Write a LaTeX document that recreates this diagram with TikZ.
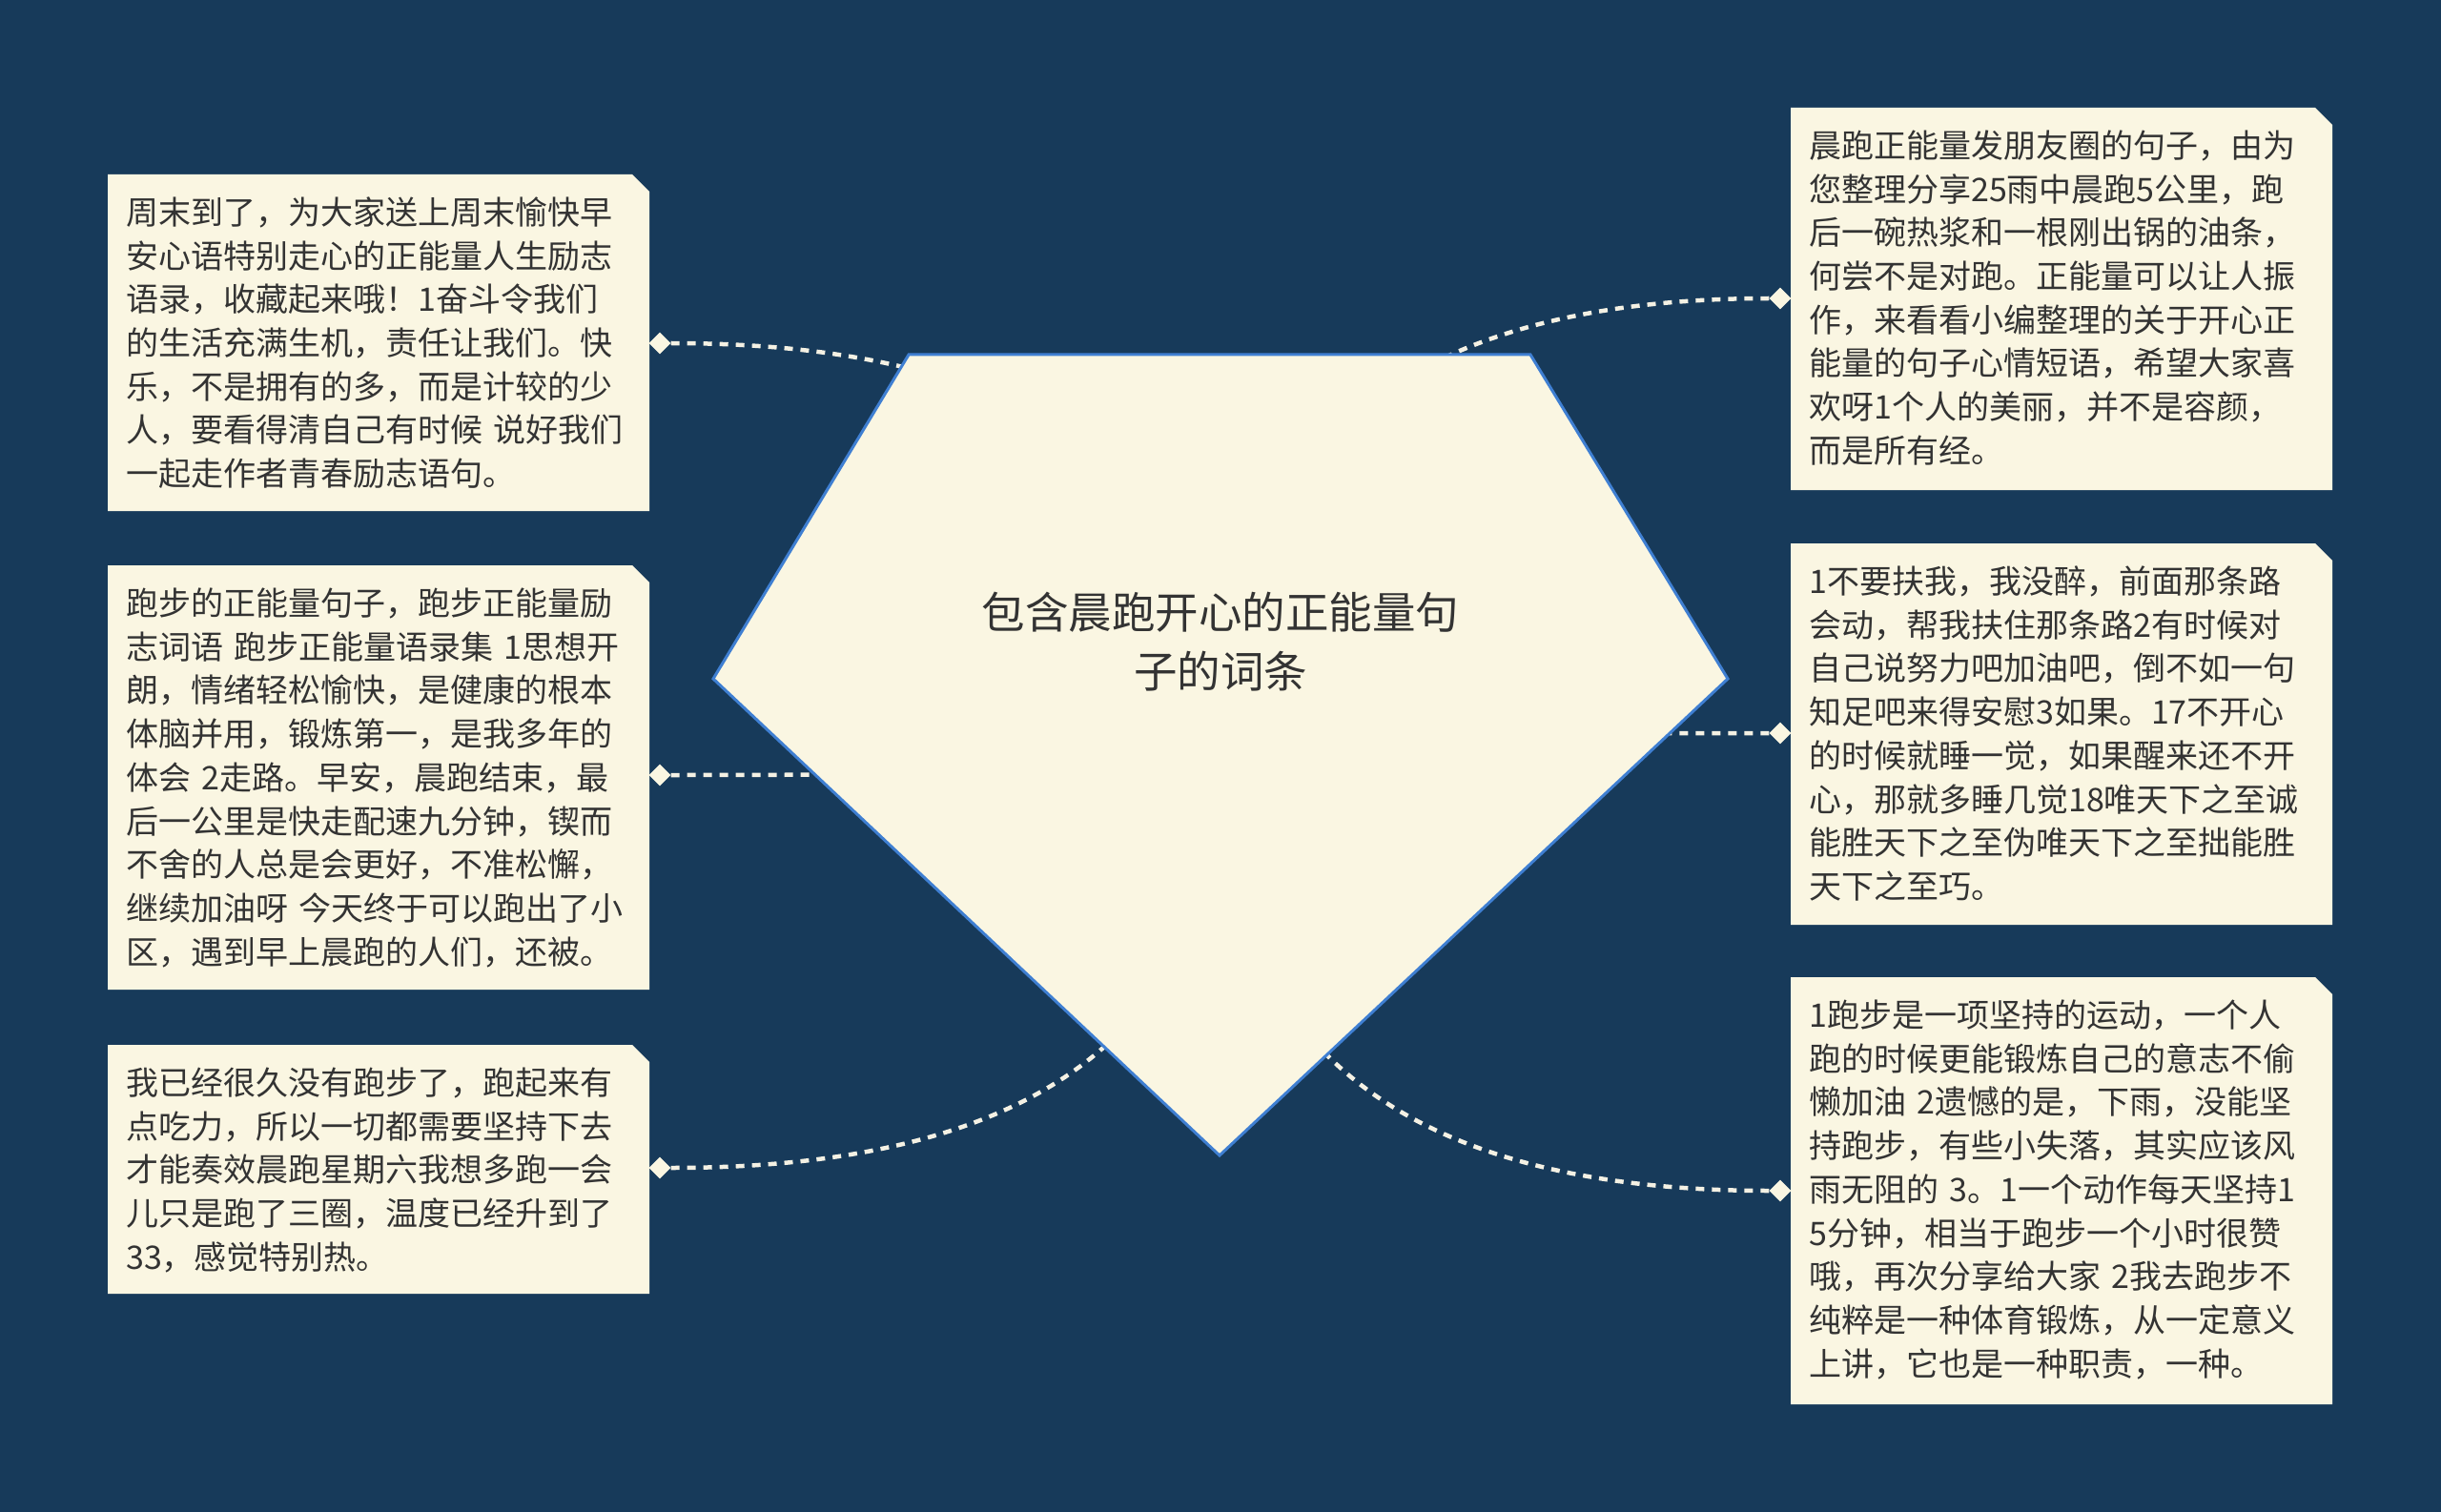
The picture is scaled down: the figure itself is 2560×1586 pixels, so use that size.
\documentclass[tikz,border=0pt]{standalone}
\usepackage{fontspec}
\newfontfamily\cjk{Noto Sans CJK SC}
\usetikzlibrary{shapes.geometric,calc}
\definecolor{bg}{HTML}{173A5A}
\definecolor{card}{HTML}{FAF6E2}
\definecolor{ink}{HTML}{333333}
\definecolor{edgeblue}{HTML}{3F7FD2}
\definecolor{dashc}{HTML}{F4F1E4}
\tikzset{
  cardtext/.style={anchor=base west, text width=560pt, align=left, inner sep=0pt,
    font=\cjk\fontsize{34}{45.7}\selectfont, text=ink},
  tip/.style={diamond, fill=card, minimum width=23pt, minimum height=23pt, inner sep=0pt},
  link/.style={draw=dashc, line width=4.5pt, dash pattern=on 9pt off 8pt},
  titletext/.style={anchor=base, text width=560pt, align=center, inner sep=0pt,
    font=\cjk\fontsize{45.5}{62}\selectfont, text=ink}
}
\newcommand\mycard[5]{%
  \fill[card] (#2,#3) -- ++(550,0) -- ++(18,18) -- ++(0,#4-18) -- ++(-568,0) -- cycle;
  \node[cardtext] (#1) at (#2+19,#3+52.5) {#5};
}
\begin{document}
\begin{tikzpicture}[x=1pt,y=-1pt]
\useasboundingbox (0,0) rectangle (2560,1586);
\fill[bg] (0,0) rectangle (2560,1586);

\mycard{l1}{113}{183}{353}{周末到了，为大家送上周末愉快早\\安心语特别走心的正能量人生励志\\语录，收藏起来哦！1奋斗令我们\\的生活充满生机，责任让我们。快\\乐，不是拥有的多，而是计较的少\\人，要看得清自己有时候 说好我们\\一起走作者青春励志语句。}
\mycard{l2}{113}{593}{445}{跑步的正能量句子，跑步正能量励\\志词语 跑步正能量语录集 1思想开\\朗，情绪轻松愉快，是健康的根本\\体脑并用，锻炼第一，是我多年的\\体会 2走路。早安，晨跑结束，最\\后一公里是快走配速九分钟，锲而\\不舍的人总是会更好，不准松懈，\\继续加油呀 今天终于可以跑出了小\\区，遇到早上晨跑的人们，还被。}
\mycard{l3}{113}{1096}{261}{我已经很久没有跑步了，跑起来有\\点吃力，所以一切都需要坚持下去\\才能奏效晨跑星期六我想多跑一会\\儿只是跑了三圈，温度已经升到了\\33，感觉特别热。}
\mycard{r1}{1878}{113}{401}{晨跑正能量发朋友圈的句子，由为\\您整理分享25雨中晨跑5公里，跑\\后一碗热浆和一根刚出锅的油条，\\何尝不是对跑。正能量可以让人振\\作，来看看小编整理的关于开心正\\能量的句子心情短语，希望大家喜\\欢呀1个人的美丽，并不是容颜，\\而是所有经。}
\mycard{r2}{1878}{570}{400}{1不要扶我，我没醉，前面那条路\\会动，帮我扶住那条路2有时候对\\自己说努力吧加油吧，倒不如一句\\知足吧来得安慰3如果。17不开心\\的时候就睡一觉，如果醒来还不开\\心，那就多睡几觉18唯天下之至诚\\能胜天下之至伪唯天下之至拙能胜\\天下之至巧。}
\mycard{r3}{1878}{1025}{448}{1跑步是一项坚持的运动，一个人\\跑的时候更能锻炼自己的意志不偷\\懒加油 2遗憾的是，下雨，没能坚\\持跑步，有些小失落，其实应该风\\雨无阻的 3。1一个动作每天坚持1\\5分钟，相当于跑步一个小时很赞\\哦，再次分享给大家 2我去跑步不\\纯粹是一种体育锻炼，从一定意义\\上讲，它也是一种职责，一种。}

\node[tip] (dl1) at (692,360) {};
\node[tip] (dl2) at (692,813) {};
\node[tip] (dl3) at (692,1225) {};
\node[tip] (dr1) at (1867,313) {};
\node[tip] (dr2) at (1867,769) {};
\node[tip] (dr3) at (1867,1249) {};

\coordinate (ctr) at (1279,792);

\foreach \d/\a in {dl1/east,dl2/east,dl3/east,dr1/west,dr2/west,dr3/west}{
  \draw[link] (\d.\a) .. controls ($(\d.\a)!0.6667!(\d.\a -| ctr)$) and ($(ctr)!0.6667!(\d.\a -| ctr)$) .. (ctr);
}

\coordinate (ptl) at (953,372);
\coordinate (ptr) at (1605,372);
\coordinate (pr) at (1812,712);
\coordinate (pb) at (1279,1212);
\coordinate (pl) at (748,712);
\draw[fill=card, draw=edgeblue, line width=3pt, line join=miter] (ptl) -- (ptr) -- (pr) -- (pb) -- (pl) -- cycle;

\node[titletext] (title) at (1280,659) {包含晨跑开心的正能量句\\子的词条};
\end{tikzpicture}
\end{document}
